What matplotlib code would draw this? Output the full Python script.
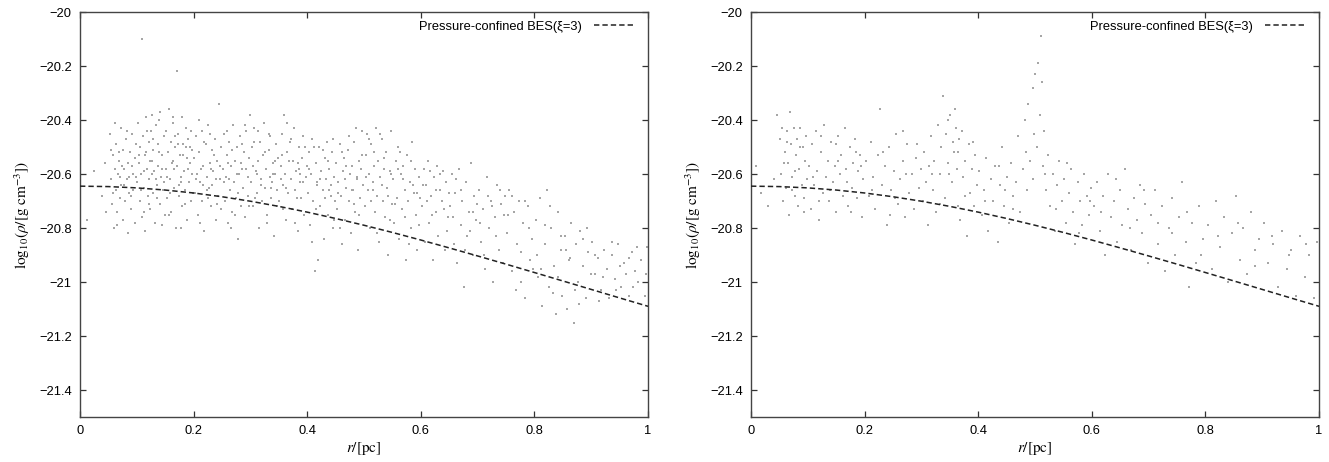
import matplotlib
matplotlib.use("Agg")
import matplotlib.pyplot as plt
from matplotlib.ticker import FuncFormatter

# ---------------- data ----------------
curve_r = [0.00, 0.05, 0.10, 0.15, 0.20, 0.25, 0.30, 0.35, 0.40, 0.45, 0.50,
           0.55, 0.60, 0.65, 0.70, 0.75, 0.80, 0.85, 0.90, 0.95, 1.00]
curve_y = [-20.645, -20.6466, -20.6514, -20.6594, -20.6703, -20.6842, -20.7008,
           -20.7199, -20.7412, -20.7647, -20.7898, -20.8165, -20.8445, -20.8737,
           -20.9035, -20.9339, -20.9649, -20.9961, -21.0275, -21.0589, -21.0900]

left_points = [
    (0.012,-20.77),(0.024,-20.59),(0.038,-20.68),(0.046,-20.74),(0.044,-20.56),
    (0.052,-20.45),(0.055,-20.62),(0.057,-20.71),(0.058,-20.53),(0.060,-20.80),(0.061,-20.58),(0.063,-20.66),
    (0.064,-20.49),(0.066,-20.74),(0.067,-20.60),(0.069,-20.55),(0.070,-20.69),(0.072,-20.43),(0.073,-20.64),
    (0.075,-20.77),(0.076,-20.51),(0.078,-20.58),(0.079,-20.70),(0.081,-20.47),(0.082,-20.62),(0.084,-20.82),
    (0.085,-20.56),(0.087,-20.67),(0.088,-20.52),(0.090,-20.73),(0.091,-20.45),(0.093,-20.60),(0.094,-20.66),
    (0.096,-20.54),(0.097,-20.78),(0.099,-20.49),(0.068,-20.52),(0.086,-20.61),(0.074,-20.57),
    (0.101,-20.63),(0.102,-20.41),(0.104,-20.56),(0.105,-20.70),(0.106,-20.50),(0.108,-20.60),(0.109,-20.76),
    (0.110,-20.10),(0.111,-20.46),(0.112,-20.65),(0.114,-20.53),(0.115,-20.81),(0.116,-20.39),(0.118,-20.58),
    (0.119,-20.68),(0.121,-20.48),(0.122,-20.62),(0.124,-20.73),(0.125,-20.44),(0.126,-20.55),(0.128,-20.67),
    (0.129,-20.51),(0.131,-20.59),(0.132,-20.78),(0.134,-20.42),(0.135,-20.64),(0.137,-20.49),(0.138,-20.57),
    (0.140,-20.71),(0.141,-20.37),(0.143,-20.61),(0.144,-20.53),(0.146,-20.66),(0.147,-20.46),(0.149,-20.75),
    (0.113,-20.59),(0.127,-20.60),(0.139,-20.52),(0.123,-20.55),
    (0.151,-20.58),(0.152,-20.44),(0.154,-20.69),(0.155,-20.52),(0.157,-20.36),(0.158,-20.62),(0.160,-20.48),
    (0.161,-20.74),(0.163,-20.55),(0.164,-20.41),(0.166,-20.65),(0.167,-20.50),(0.169,-20.80),(0.170,-20.22),
    (0.171,-20.57),(0.173,-20.45),(0.174,-20.68),(0.176,-20.53),(0.177,-20.61),(0.179,-20.39),(0.180,-20.72),
    (0.182,-20.49),(0.183,-20.59),(0.185,-20.66),(0.186,-20.43),(0.188,-20.54),(0.189,-20.77),(0.191,-20.47),
    (0.192,-20.63),(0.194,-20.56),(0.195,-20.70),(0.197,-20.51),(0.198,-20.60),(0.165,-20.58),(0.178,-20.63),
    (0.187,-20.50),(0.159,-20.67),
    (0.201,-20.54),(0.203,-20.67),(0.205,-20.46),(0.206,-20.60),(0.208,-20.75),(0.210,-20.52),(0.212,-20.63),
    (0.214,-20.44),(0.215,-20.70),(0.217,-20.57),(0.219,-20.81),(0.221,-20.49),(0.223,-20.61),(0.224,-20.66),
    (0.226,-20.42),(0.228,-20.56),(0.230,-20.72),(0.232,-20.51),(0.233,-20.64),(0.235,-20.59),(0.237,-20.47),
    (0.239,-20.77),(0.241,-20.55),(0.243,-20.68),(0.244,-20.34),(0.246,-20.62),(0.248,-20.50),(0.249,-20.73),
    (0.213,-20.58),(0.227,-20.65),
    (0.251,-20.58),(0.253,-20.45),(0.255,-20.70),(0.257,-20.61),(0.258,-20.53),(0.260,-20.78),(0.262,-20.48),
    (0.264,-20.66),(0.266,-20.57),(0.267,-20.74),(0.269,-20.42),(0.271,-20.63),(0.273,-20.55),(0.275,-20.69),
    (0.276,-20.50),(0.278,-20.84),(0.280,-20.60),(0.282,-20.46),(0.284,-20.72),(0.285,-20.58),(0.287,-20.65),
    (0.289,-20.52),(0.291,-20.76),(0.293,-20.44),(0.295,-20.61),(0.296,-20.68),(0.298,-20.54),(0.299,-20.38),
    (0.263,-20.62),(0.283,-20.56),
    (0.301,-20.63),(0.303,-20.50),(0.305,-20.72),(0.307,-20.43),(0.309,-20.59),(0.311,-20.67),(0.313,-20.55),
    (0.315,-20.80),(0.317,-20.48),(0.318,-20.62),(0.320,-20.70),(0.322,-20.53),(0.324,-20.41),(0.326,-20.65),
    (0.328,-20.58),(0.330,-20.75),(0.332,-20.51),(0.334,-20.61),(0.335,-20.46),(0.337,-20.69),(0.339,-20.56),
    (0.341,-20.83),(0.343,-20.60),(0.345,-20.49),(0.347,-20.66),(0.349,-20.54),(0.312,-20.60),(0.338,-20.63),
    (0.351,-20.70),(0.353,-20.57),(0.355,-20.45),(0.357,-20.64),(0.359,-20.38),(0.361,-20.60),(0.363,-20.77),
    (0.365,-20.52),(0.367,-20.67),(0.369,-20.48),(0.371,-20.62),(0.373,-20.73),(0.375,-20.55),(0.377,-20.43),
    (0.379,-20.66),(0.381,-20.59),(0.383,-20.81),(0.385,-20.50),(0.387,-20.63),(0.389,-20.69),(0.391,-20.54),
    (0.393,-20.46),(0.395,-20.75),(0.397,-20.61),(0.399,-20.57),(0.362,-20.65),(0.386,-20.58),
    (0.401,-20.67),(0.403,-20.52),(0.405,-20.79),(0.407,-20.60),(0.409,-20.47),(0.411,-20.70),(0.413,-20.96),
    (0.415,-20.56),(0.417,-20.64),(0.419,-20.92),(0.421,-20.50),(0.423,-20.72),(0.425,-20.59),(0.427,-20.66),
    (0.429,-20.84),(0.431,-20.54),(0.433,-20.62),(0.435,-20.48),(0.437,-20.75),(0.439,-20.58),(0.441,-20.68),
    (0.443,-20.52),(0.445,-20.80),(0.447,-20.61),(0.449,-20.70),(0.418,-20.63),(0.438,-20.66),
    (0.451,-20.56),(0.453,-20.73),(0.455,-20.63),(0.457,-20.49),(0.459,-20.68),(0.461,-20.86),(0.463,-20.59),
    (0.465,-20.54),(0.467,-20.77),(0.469,-20.65),(0.471,-20.51),(0.473,-20.70),(0.475,-20.60),(0.477,-20.82),
    (0.479,-20.57),(0.481,-20.66),(0.483,-20.48),(0.485,-20.74),(0.487,-20.62),(0.489,-20.88),(0.491,-20.55),
    (0.493,-20.69),(0.495,-20.58),(0.497,-20.44),(0.499,-20.64),(0.466,-20.62),
    (0.501,-20.72),(0.503,-20.53),(0.505,-20.45),(0.507,-20.66),(0.509,-20.60),(0.511,-20.80),(0.513,-20.49),
    (0.515,-20.63),(0.517,-20.57),(0.519,-20.74),(0.521,-20.43),(0.523,-20.68),(0.525,-20.55),(0.527,-20.85),
    (0.529,-20.61),(0.531,-20.47),(0.533,-20.70),(0.535,-20.58),(0.537,-20.76),(0.539,-20.52),(0.541,-20.65),
    (0.543,-20.90),(0.545,-20.59),(0.547,-20.44),(0.549,-20.71),(0.516,-20.66),
    (0.551,-20.62),(0.553,-20.78),(0.556,-20.55),(0.558,-20.69),(0.560,-20.50),(0.562,-20.84),(0.565,-20.60),
    (0.567,-20.73),(0.569,-20.57),(0.572,-20.66),(0.574,-20.92),(0.576,-20.53),(0.578,-20.70),(0.581,-20.63),
    (0.583,-20.80),(0.585,-20.48),(0.588,-20.67),(0.590,-20.58),(0.592,-20.75),(0.594,-20.88),(0.597,-20.61),
    (0.599,-20.69),
    (0.602,-20.72),(0.605,-20.58),(0.607,-20.85),(0.610,-20.64),(0.613,-20.55),(0.615,-20.78),(0.618,-20.68),
    (0.621,-20.92),(0.623,-20.61),(0.626,-20.74),(0.629,-20.57),(0.631,-20.83),(0.634,-20.66),(0.637,-20.70),
    (0.639,-20.59),(0.642,-20.88),(0.645,-20.63),(0.647,-20.76),(0.649,-20.67),
    (0.652,-20.72),(0.655,-20.60),(0.658,-20.86),(0.661,-20.67),(0.664,-20.93),(0.667,-20.58),(0.670,-20.79),
    (0.673,-20.70),(0.676,-21.02),(0.679,-20.63),(0.682,-20.83),(0.685,-20.74),(0.688,-20.56),(0.691,-20.90),
    (0.694,-20.68),(0.697,-20.77),
    (0.702,-20.66),(0.706,-20.85),(0.709,-20.73),(0.713,-20.95),(0.716,-20.61),(0.720,-20.80),(0.723,-20.70),
    (0.727,-21.00),(0.730,-20.76),(0.734,-20.64),(0.737,-20.88),(0.741,-20.71),(0.744,-20.93),(0.748,-20.68),
    (0.752,-20.82),(0.756,-20.66),(0.760,-20.96),(0.764,-20.74),(0.768,-21.03),(0.772,-20.70),(0.776,-20.89),
    (0.780,-20.78),(0.784,-21.06),(0.788,-20.72),(0.792,-20.92),(0.796,-20.84),
    (0.802,-20.77),(0.806,-20.98),(0.810,-20.69),(0.814,-21.09),(0.818,-20.86),(0.822,-20.66),(0.826,-21.02),
    (0.830,-20.80),(0.834,-20.94),(0.838,-21.12),(0.842,-20.74),(0.846,-20.88),(0.849,-21.05),
    (0.853,-20.83),(0.857,-21.10),(0.861,-20.92),(0.865,-20.78),(0.869,-21.15),(0.873,-20.86),(0.877,-21.00),
    (0.881,-20.81),(0.885,-20.94),(0.890,-21.06),(0.895,-20.89),
    (0.902,-20.85),(0.907,-20.97),(0.912,-20.91),(0.917,-21.03),(0.922,-20.88),(0.927,-20.95),(0.932,-21.06),
    (0.937,-20.90),(0.942,-20.99),(0.947,-20.86),(0.952,-21.02),(0.957,-20.93),(0.962,-20.97),(0.967,-21.05),
    (0.972,-20.89),(0.977,-20.96),(0.982,-21.00),(0.988,-20.92),(0.994,-21.05),(0.998,-20.87),
]

left_points_extra = [
    (0.058,-20.67),(0.083,-20.44),(0.071,-20.61),(0.092,-20.57),(0.065,-20.79),(0.077,-20.64),(0.089,-20.68),
    (0.054,-20.51),(0.098,-20.61),(0.062,-20.41),
    (0.107,-20.66),(0.133,-20.62),(0.118,-20.44),(0.145,-20.58),(0.121,-20.71),(0.139,-20.40),(0.103,-20.53),
    (0.128,-20.47),(0.148,-20.63),(0.112,-20.74),(0.136,-20.69),(0.117,-20.52),(0.144,-20.79),(0.126,-20.38),
    (0.153,-20.61),(0.172,-20.49),(0.184,-20.71),(0.162,-20.56),(0.196,-20.44),(0.175,-20.64),(0.157,-20.75),
    (0.190,-20.58),(0.168,-20.46),(0.181,-20.53),(0.199,-20.67),(0.163,-20.39),(0.178,-20.80),(0.193,-20.50),
    (0.204,-20.62),(0.218,-20.48),(0.231,-20.58),(0.242,-20.71),(0.209,-20.40),(0.225,-20.69),(0.236,-20.53),
    (0.247,-20.57),(0.216,-20.64),(0.229,-20.45),(0.240,-20.62),(0.211,-20.78),
    (0.254,-20.63),(0.268,-20.51),(0.279,-20.67),(0.292,-20.58),(0.259,-20.44),(0.272,-20.75),(0.286,-20.49),
    (0.297,-20.72),(0.261,-20.56),(0.277,-20.60),(0.290,-20.42),(0.265,-20.80),
    (0.304,-20.57),(0.319,-20.64),(0.333,-20.45),(0.346,-20.72),(0.308,-20.69),(0.325,-20.52),(0.340,-20.60),
    (0.314,-20.44),(0.329,-20.78),(0.344,-20.55),(0.306,-20.48),(0.336,-20.65),
    (0.354,-20.62),(0.368,-20.55),(0.382,-20.69),(0.396,-20.50),(0.358,-20.73),(0.372,-20.47),(0.388,-20.60),
    (0.364,-20.41),(0.378,-20.78),(0.392,-20.63),(0.356,-20.53),(0.384,-20.56),
    (0.404,-20.58),(0.416,-20.73),(0.428,-20.51),(0.442,-20.64),(0.408,-20.85),(0.422,-20.62),(0.436,-20.55),
    (0.448,-20.77),(0.412,-20.50),(0.432,-20.69),(0.446,-20.47),
    (0.454,-20.67),(0.468,-20.57),(0.482,-20.71),(0.496,-20.53),(0.458,-20.80),(0.474,-20.46),(0.488,-20.61),
    (0.462,-20.52),(0.478,-20.66),(0.492,-20.75),(0.486,-20.43),
    (0.504,-20.61),(0.518,-20.52),(0.532,-20.64),(0.546,-20.77),(0.508,-20.47),(0.522,-20.82),(0.536,-20.54),
    (0.548,-20.60),(0.512,-20.70),(0.528,-20.45),(0.542,-20.68),
    (0.554,-20.71),(0.568,-20.62),(0.582,-20.55),(0.596,-20.79),(0.559,-20.58),(0.573,-20.76),(0.587,-20.64),
    (0.563,-20.52),(0.579,-20.86),(0.593,-20.67),
    (0.604,-20.64),(0.619,-20.75),(0.633,-20.60),(0.646,-20.81),(0.611,-20.70),(0.627,-20.66),(0.641,-20.73),
    (0.616,-20.59),
    (0.656,-20.76),(0.671,-20.66),(0.686,-20.81),(0.699,-20.71),(0.662,-20.62),(0.678,-20.88),(0.692,-20.74),
    (0.704,-20.78),(0.719,-20.68),(0.733,-20.83),(0.746,-20.75),(0.711,-20.90),(0.726,-20.72),(0.739,-20.66),
    (0.754,-20.75),(0.769,-20.86),(0.783,-20.70),(0.797,-20.95),(0.761,-20.68),(0.777,-21.00),(0.791,-20.80),
    (0.804,-20.90),(0.819,-20.79),(0.833,-21.04),(0.847,-20.83),(0.812,-20.95),(0.827,-20.72),(0.841,-20.98),
    (0.856,-20.88),(0.871,-21.03),(0.886,-20.84),(0.899,-20.97),(0.863,-20.91),(0.879,-21.08),(0.893,-20.80),
    (0.906,-20.90),(0.921,-20.98),(0.936,-20.85),(0.951,-20.94),(0.966,-20.91),(0.981,-20.87),(0.996,-20.97),
    (0.914,-21.07),(0.944,-21.03),(0.974,-21.02),
]

right_points = [
    (0.008,-20.57),(0.018,-20.67),(0.030,-20.72),(0.040,-20.62),(0.045,-20.38),
    (0.051,-20.47),(0.053,-20.60),(0.055,-20.43),(0.057,-20.70),(0.059,-20.52),(0.061,-20.65),(0.063,-20.44),
    (0.065,-20.56),(0.067,-20.75),(0.069,-20.37),(0.071,-20.49),(0.073,-20.61),(0.075,-20.43),(0.077,-20.68),
    (0.079,-20.53),(0.081,-20.47),(0.083,-20.72),(0.085,-20.58),(0.087,-20.43),(0.089,-20.64),(0.091,-20.50),
    (0.093,-20.69),(0.095,-20.55),(0.097,-20.46),(0.099,-20.62),
    (0.102,-20.57),(0.105,-20.73),(0.108,-20.49),(0.111,-20.64),(0.114,-20.44),(0.117,-20.59),(0.120,-20.77),
    (0.123,-20.52),(0.126,-20.67),(0.129,-20.42),(0.132,-20.61),(0.135,-20.55),(0.138,-20.70),(0.141,-20.48),
    (0.144,-20.63),(0.147,-20.57),(0.150,-20.74),(0.153,-20.46),(0.156,-20.60),(0.159,-20.53),(0.162,-20.68),
    (0.165,-20.43),(0.168,-20.58),(0.171,-20.72),(0.174,-20.50),(0.177,-20.65),(0.180,-20.56),(0.183,-20.47),
    (0.186,-20.69),(0.189,-20.59),(0.192,-20.53),(0.195,-20.76),(0.198,-20.62),
    (0.203,-20.55),(0.207,-20.68),(0.211,-20.48),(0.215,-20.61),(0.219,-20.73),(0.223,-20.53),(0.227,-20.36),
    (0.231,-20.64),(0.235,-20.57),(0.239,-20.79),(0.243,-20.50),(0.247,-20.66),(0.251,-20.59),(0.255,-20.45),
    (0.259,-20.71),(0.263,-20.62),(0.267,-20.55),(0.271,-20.76),(0.275,-20.49),(0.279,-20.67),(0.283,-20.60),
    (0.287,-20.73),(0.291,-20.54),(0.295,-20.65),(0.299,-20.58),
    (0.302,-20.70),(0.305,-20.52),(0.308,-20.63),(0.311,-20.79),(0.314,-20.57),(0.317,-20.46),(0.320,-20.66),
    (0.323,-20.55),(0.326,-20.74),(0.329,-20.42),(0.332,-20.60),(0.335,-20.50),(0.338,-20.31),(0.341,-20.69),
    (0.344,-20.45),(0.347,-20.56),(0.350,-20.38),(0.353,-20.63),(0.356,-20.48),(0.359,-20.36),(0.362,-20.58),
    (0.365,-20.52),(0.368,-20.77),(0.371,-20.44),(0.374,-20.61),(0.377,-20.55),(0.380,-20.83),(0.383,-20.49),
    (0.386,-20.67),(0.389,-20.58),(0.392,-20.72),(0.395,-20.53),(0.398,-20.64),(0.346,-20.40),(0.357,-20.52),
    (0.367,-20.47),
    (0.402,-20.59),(0.406,-20.75),(0.410,-20.66),(0.414,-20.54),(0.418,-20.81),(0.422,-20.62),(0.426,-20.70),
    (0.430,-20.57),(0.434,-20.85),(0.438,-20.64),(0.442,-20.50),(0.446,-20.72),(0.450,-20.61),(0.454,-20.78),
    (0.458,-20.56),(0.462,-20.68),(0.466,-20.63),(0.470,-20.46),(0.474,-20.74),(0.478,-20.58),(0.482,-20.40),
    (0.486,-20.66),(0.488,-20.34),(0.492,-20.55),(0.496,-20.28),(0.498,-20.45),(0.500,-20.23),
    (0.503,-20.50),(0.505,-20.19),(0.508,-20.38),(0.510,-20.09),(0.512,-20.26),(0.514,-20.57),(0.516,-20.44),
    (0.519,-20.66),(0.523,-20.53),(0.527,-20.72),(0.531,-20.60),(0.535,-20.81),(0.539,-20.64),(0.543,-20.55),
    (0.547,-20.70),(0.551,-20.62),(0.555,-20.78),(0.559,-20.67),(0.563,-20.58),(0.567,-20.74),(0.571,-20.86),
    (0.575,-20.63),(0.579,-20.70),(0.583,-20.79),(0.587,-20.60),(0.591,-20.68),(0.595,-20.75),(0.599,-20.65),
    (0.604,-20.72),(0.609,-20.63),(0.614,-20.81),(0.619,-20.68),(0.624,-20.90),(0.629,-20.60),(0.634,-20.76),
    (0.639,-20.70),(0.644,-20.85),(0.649,-20.66),(0.654,-20.79),(0.659,-20.58),(0.664,-20.73),(0.669,-20.88),
    (0.674,-20.69),(0.679,-20.77),(0.684,-20.64),(0.689,-20.82),(0.694,-20.71),(0.699,-20.93),
    (0.705,-20.75),(0.711,-20.66),(0.717,-20.86),(0.723,-20.72),(0.729,-20.96),(0.735,-20.80),(0.741,-20.69),
    (0.747,-20.90),(0.753,-20.76),(0.759,-20.63),(0.765,-20.85),(0.771,-21.02),(0.777,-20.78),(0.783,-20.93),
    (0.789,-20.72),(0.795,-20.84),
    (0.804,-20.79),(0.811,-20.95),(0.818,-20.70),(0.825,-20.87),(0.832,-20.76),(0.839,-21.00),(0.846,-20.82),
    (0.853,-20.68),(0.860,-20.92),(0.867,-20.80),(0.874,-20.97),(0.881,-20.74),(0.888,-20.88),(0.895,-20.84),
    (0.903,-20.78),(0.911,-20.93),(0.919,-20.86),(0.927,-21.02),(0.935,-20.81),(0.943,-20.95),(0.951,-20.88),
    (0.959,-21.05),(0.967,-20.83),(0.975,-20.98),(0.983,-20.90),(0.991,-21.06),(0.997,-20.85),
]

right_points_extra = [
    (0.058,-20.56),(0.072,-20.66),(0.086,-20.50),(0.094,-20.74),(0.064,-20.48),(0.078,-20.59),
    (0.109,-20.61),(0.124,-20.46),(0.139,-20.66),(0.154,-20.55),(0.169,-20.63),(0.184,-20.52),(0.119,-20.70),
    (0.149,-20.49),(0.176,-20.74),(0.194,-20.57),
    (0.213,-20.66),(0.233,-20.52),(0.253,-20.69),(0.273,-20.60),(0.293,-20.49),(0.245,-20.75),(0.268,-20.44),
    (0.318,-20.60),(0.333,-20.71),(0.349,-20.60),(0.361,-20.43),(0.376,-20.68),(0.391,-20.48),(0.364,-20.72),
    (0.412,-20.70),(0.437,-20.57),(0.461,-20.73),(0.484,-20.52),(0.497,-20.62),(0.447,-20.66),
    (0.517,-20.60),(0.537,-20.73),(0.557,-20.56),(0.577,-20.82),(0.597,-20.70),
    (0.617,-20.74),(0.642,-20.62),(0.667,-20.80),(0.692,-20.66),
    (0.717,-20.78),(0.742,-20.82),(0.767,-20.74),(0.792,-20.90),
    (0.822,-20.83),(0.857,-20.78),(0.887,-20.94),
    (0.917,-20.83),(0.947,-20.90),(0.977,-20.86),
]

x_ticks = [0, 0.2, 0.4, 0.6, 0.8, 1.0]
y_ticks = [-20.0, -20.2, -20.4, -20.6, -20.8, -21.0, -21.2, -21.4]
legend_label = "Pressure-confined BES(ξ=3)"

# ---------------- drawing ----------------
plt.rcParams['font.family'] = ['Liberation Sans', 'DejaVu Sans']
plt.rcParams['mathtext.fontset'] = 'stix'

fig = plt.figure(figsize=(13.29, 4.62), dpi=100)
axes_rects = [[0.0602, 0.0974, 0.4274, 0.8766], [0.5651, 0.0974, 0.4274, 0.8766]]
fmt = FuncFormatter(lambda v, p: ("%g" % v).replace("-", "\u2212"))

panels = [left_points + left_points_extra, right_points + right_points_extra]
for rect, pts in zip(axes_rects, panels):
    ax = fig.add_axes(rect)
    pr = [p[0] for p in pts]
    py = [p[1] for p in pts]
    ax.scatter(pr, py, s=1.5, marker='s', c='#a6a6a6', linewidths=0, zorder=2)
    ax.plot(curve_r, curve_y, color='#222222', lw=1.1, ls=(0, (3.5, 2.0)),
            label=legend_label, zorder=3)
    ax.set_xlim(0, 1)
    ax.set_ylim(-21.5, -20.0)
    ax.set_xticks(x_ticks)
    ax.set_yticks(y_ticks)
    ax.xaxis.set_major_formatter(fmt)
    ax.yaxis.set_major_formatter(fmt)
    ax.tick_params(direction='in', length=4, width=0.9, top=True, right=True,
                   labelsize=9.3, colors='#333333', labelcolor='black', pad=6)
    for s in ax.spines.values():
        s.set_color('#444444')
        s.set_linewidth(1.0)
    ax.set_xlabel(r"$\mathit{r}/[\mathrm{pc}]$", fontsize=11, labelpad=2)
    ax.set_ylabel(r"$\mathrm{log}_{10}(\rho/[\mathrm{g\ cm}^{-3}])$", fontsize=11, labelpad=5)
    ax.legend(loc='upper right', bbox_to_anchor=(0.975, 0.982), frameon=False,
              markerfirst=False, fontsize=9.3, handlelength=3.0, handletextpad=0.9,
              borderaxespad=0.0, borderpad=0.1)

fig.savefig("out.png", dpi=100)
